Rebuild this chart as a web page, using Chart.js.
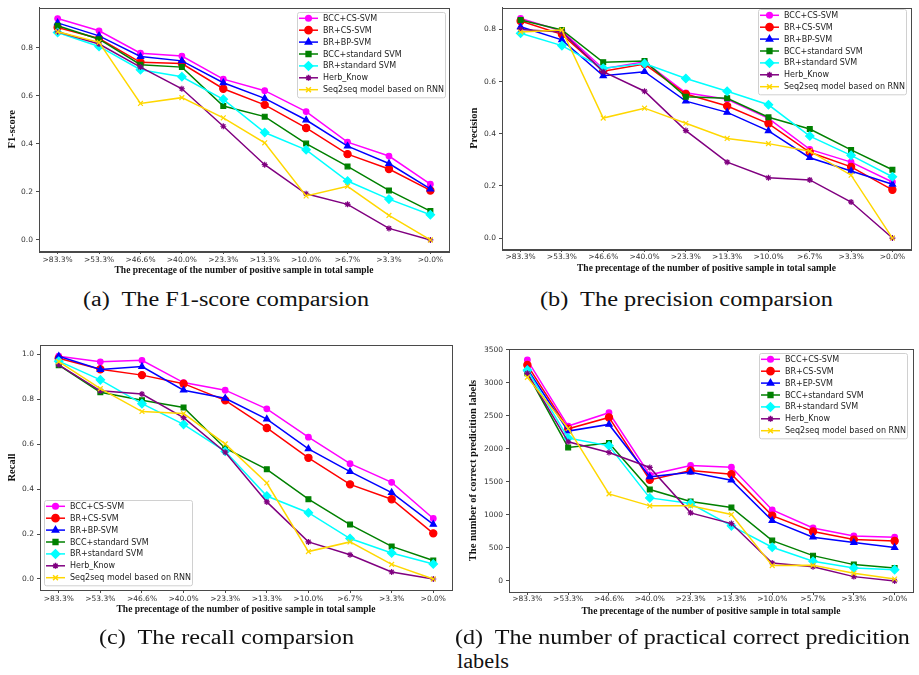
<!DOCTYPE html>
<html>
<head>
<meta charset="utf-8">
<script src="https://cdn.jsdelivr.net/npm/chart.js@4.4.0/dist/chart.umd.min.js"></script>
<style>
    body { margin: 0; background: #fff; width: 919px; height: 675px; position: relative; overflow: hidden; }
    canvas { position: absolute; }
    .cap { position: absolute; font-family: "Liberation Serif", "Times New Roman", serif; font-size: 20px; line-height: 20px; color: #111; white-space: nowrap; transform-origin: 0 0; }
</style>
</head>
<body>
<canvas id="chartA" width="460" height="285" style="left:0;top:0"></canvas>
<canvas id="chartB" width="459" height="285" style="left:460px;top:0"></canvas>
<canvas id="chartC" width="460" height="300" style="left:0;top:330px"></canvas>
<canvas id="chartD" width="459" height="300" style="left:460px;top:330px"></canvas>

<div class="cap" data-w="286" style="left:83px;top:289px">(a)&nbsp; The F1-score comparsion</div>
<div class="cap" data-w="293" style="left:540px;top:289px">(b)&nbsp; The precision comparsion</div>
<div class="cap" data-w="255" style="left:99px;top:627px">(c)&nbsp; The recall comparsion</div>
<div class="cap" data-w="455" style="left:455px;top:627px">(d)&nbsp; The number of practical correct predicition</div>
<div class="cap" data-w="52" style="left:457px;top:651px">labels</div>

<script>
// Categories and tick labels
const xLabels = ['>83.3%', '>53.3%', '>46.6%', '>40.0%', '>23.3%', '>13.3%', '>10.0%', '>6.7%', '>3.3%', '>0.0%'];
const xLabelsD = ['>83.3%', '>53.3%', '>46.6%', '>40.0%', '>23.3%', '>13.3%', '>10.0%', '>5.7%', '>3.3%', '>0.0%'];
const seriesNames = ['BCC+CS-SVM', 'BR+CS-SVM', 'BR+BP-SVM', 'BCC+standard SVM', 'BR+standard SVM', 'Herb_Know', 'Seq2seq model based on RNN'];
const seriesNamesD = ['BCC+CS-SVM', 'BR+CS-SVM', 'BR+EP-SVM', 'BCC+standard SVM', 'BR+standard SVM', 'Herb_Know', 'Seq2seq model based on RNN'];
const yTicksRate = [0.0, 0.2, 0.4, 0.6, 0.8];
const yTicksRecall = [0.0, 0.2, 0.4, 0.6, 0.8, 1.0];
const yTicksCount = [0, 500, 1000, 1500, 2000, 2500, 3000, 3500];

// (a) F1-score
const f1BccCs  = [0.921, 0.870, 0.777, 0.765, 0.669, 0.621, 0.534, 0.407, 0.349, 0.232];
const f1BrCs   = [0.884, 0.838, 0.739, 0.734, 0.629, 0.562, 0.466, 0.357, 0.295, 0.206];
const f1BrBp   = [0.903, 0.849, 0.763, 0.745, 0.654, 0.589, 0.499, 0.390, 0.318, 0.212];
const f1BccStd = [0.891, 0.835, 0.729, 0.719, 0.557, 0.513, 0.401, 0.306, 0.206, 0.120];
const f1BrStd  = [0.863, 0.805, 0.708, 0.679, 0.585, 0.447, 0.375, 0.245, 0.170, 0.105];
const f1Herb   = [0.866, 0.815, 0.719, 0.629, 0.473, 0.313, 0.192, 0.148, 0.048, 0.000];
const f1Seq    = [0.866, 0.822, 0.568, 0.592, 0.508, 0.404, 0.183, 0.223, 0.102, 0.000];

// (b) Precision
const prBccCs  = [0.842, 0.794, 0.649, 0.676, 0.557, 0.532, 0.459, 0.340, 0.291, 0.215];
const prBrCs   = [0.832, 0.781, 0.640, 0.667, 0.552, 0.506, 0.439, 0.329, 0.273, 0.185];
const prBrBp   = [0.810, 0.760, 0.622, 0.638, 0.525, 0.482, 0.411, 0.308, 0.257, 0.206];
const prBccStd = [0.836, 0.798, 0.674, 0.679, 0.542, 0.536, 0.463, 0.418, 0.338, 0.262];
const prBrStd  = [0.785, 0.738, 0.651, 0.669, 0.612, 0.563, 0.511, 0.391, 0.317, 0.235];
const prHerb   = [0.800, 0.790, 0.638, 0.563, 0.412, 0.291, 0.231, 0.223, 0.138, 0.000];
const prSeq    = [0.790, 0.798, 0.460, 0.498, 0.440, 0.382, 0.362, 0.333, 0.241, 0.000];

// (c) Recall
const reBccCs  = [0.991, 0.966, 0.973, 0.874, 0.840, 0.757, 0.631, 0.513, 0.430, 0.269];
const reBrCs   = [0.982, 0.933, 0.907, 0.869, 0.795, 0.672, 0.539, 0.421, 0.355, 0.203];
const reBrBp   = [0.991, 0.932, 0.945, 0.840, 0.804, 0.711, 0.579, 0.478, 0.384, 0.243];
const reBccStd = [0.951, 0.831, 0.795, 0.763, 0.582, 0.488, 0.355, 0.242, 0.145, 0.082];
const reBrStd  = [0.969, 0.886, 0.780, 0.688, 0.568, 0.369, 0.295, 0.180, 0.116, 0.067];
const reHerb   = [0.953, 0.837, 0.823, 0.718, 0.564, 0.343, 0.165, 0.108, 0.031, 0.000];
const reSeq    = [0.967, 0.847, 0.745, 0.736, 0.601, 0.427, 0.122, 0.165, 0.065, 0.000];

// (d) Number of correct prediction labels
const cnBccCs  = [3348, 2347, 2549, 1608, 1750, 1725, 1077, 804, 683, 663];
const cnBrCs   = [3272, 2306, 2478, 1532, 1674, 1618, 991, 749, 627, 607];
const cnBrBp   = [3212, 2271, 2372, 1578, 1649, 1527, 915, 663, 582, 506];
const cnBccStd = [3146, 2023, 2089, 1386, 1204, 1113, 612, 384, 248, 197];
const cnBrStd  = [3196, 2165, 2048, 1259, 1173, 835, 511, 298, 197, 172];
const cnHerb   = [3146, 2109, 1947, 1720, 1032, 870, 273, 217, 66, 0];
const cnSeq    = [3085, 2311, 1320, 1138, 1138, 1007, 233, 238, 116, 30];

// Line / marker styles per series
const seriesStyles = [
    { color: '#ff00ff', pointStyle: 'circle', radius: 2.8 },
    { color: '#ff0000', pointStyle: 'circle', radius: 3.6 },
    { color: '#0000ff', pointStyle: 'triangle', radius: 3.6 },
    { color: '#008000', pointStyle: 'rect', radius: 3.4 },
    { color: '#00ffff', pointStyle: 'rectRot', radius: 4.2 },
    { color: '#800080', pointStyle: 'star', radius: 3.0 },
    { color: '#ffd700', pointStyle: 'crossRot', radius: 3.4 }
];

const AXIS_COLOR = '#4a4a4a';
const TICK_FONT = { family: 'DejaVu Sans', size: 7.5 };

// Frame around the plot area (matplotlib style spines)
const framePlugin = {
    id: 'frame',
    afterDraw(chart) {
        const { ctx, chartArea: a } = chart;
        ctx.save();
        ctx.strokeStyle = AXIS_COLOR;
        ctx.lineWidth = 1;
        ctx.strokeRect(Math.round(a.left) + 0.5, Math.round(a.top) + 0.5,
            Math.round(a.right - a.left), Math.round(a.bottom - a.top));
        ctx.restore();
    }
};

// Legend box drawn inside the plot area
const boxLegendPlugin = {
    id: 'boxLegend',
    afterDatasetsDraw(chart, args, opts) {
        const { ctx } = chart;
        const rowH = 11.9;
        const n = chart.data.datasets.length;
        const w = 148, h = n * rowH + 2;
        ctx.save();
        ctx.fillStyle = 'rgba(255,255,255,0.85)';
        ctx.strokeStyle = '#d0d0d0';
        ctx.lineWidth = 1;
        ctx.beginPath();
        ctx.roundRect(opts.x + 0.5, opts.y + 0.5, w, h, 2);
        ctx.fill();
        ctx.stroke();
        ctx.font = '8px "DejaVu Sans"';
        ctx.textBaseline = 'middle';
        chart.data.datasets.forEach((ds, i) => {
            const cy = opts.y + 6.3 + i * rowH;
            ctx.strokeStyle = ds.borderColor;
            ctx.fillStyle = ds.borderColor;
            ctx.lineWidth = 1.5;
            ctx.beginPath();
            ctx.moveTo(opts.x + 2, cy);
            ctx.lineTo(opts.x + 21, cy);
            ctx.stroke();
            if (Chart.helpers && Chart.helpers.drawPoint) {
                Chart.helpers.drawPoint(ctx, { pointStyle: ds.pointStyle, radius: ds.pointRadius, rotation: 0, borderWidth: 1.2 }, opts.x + 11.5, cy);
            }
            ctx.fillStyle = '#222';
            ctx.fillText(ds.label, opts.x + 26, cy + 0.5);
        });
        ctx.restore();
    }
};

function makeDatasets(names, seriesList) {
    return seriesList.map((values, i) => ({
        label: names[i],
        data: values.map((v, k) => ({ x: k, y: v })),
        borderColor: seriesStyles[i].color,
        backgroundColor: seriesStyles[i].color,
        pointBackgroundColor: seriesStyles[i].color,
        pointBorderColor: seriesStyles[i].color,
        pointStyle: seriesStyles[i].pointStyle,
        pointRadius: seriesStyles[i].radius,
        pointBorderWidth: 1.2,
        borderWidth: 1.5,
        tension: 0,
        order: seriesList.length - i
    }));
}

function initPanel(id, cfg) {
    const canvas = document.getElementById(id);
    const g = cfg.geo;
    const yTitleSize = 10.5, xTitleSize = 9.5;
    new Chart(canvas, {
        type: 'line',
        data: { datasets: makeDatasets(cfg.names, cfg.series) },
        options: {
            responsive: false,
            animation: false,
            events: [],
            layout: { padding: { top: g.area.t, right: canvas.width - g.area.r, left: 0, bottom: 0 } },
            plugins: {
                legend: { display: false },
                tooltip: { enabled: false },
                boxLegend: { x: g.legend[0], y: g.legend[1] }
            },
            scales: {
                x: {
                    type: 'linear',
                    min: -0.45,
                    max: cfg.labels.length - 1 + 0.45,
                    afterBuildTicks: s => { s.ticks = cfg.labels.map((_, i) => ({ value: i })); },
                    afterFit: s => { s.height = canvas.height - g.area.b; },
                    ticks: {
                        autoSkip: false, maxRotation: 0, minRotation: 0,
                        padding: Math.max(0, g.xTickY - 4.3 - g.area.b - 3),
                        color: '#333', font: TICK_FONT,
                        callback: v => cfg.labels[v]
                    },
                    grid: { drawOnChartArea: false, drawTicks: true, tickLength: 3, color: AXIS_COLOR },
                    border: { display: true, color: AXIS_COLOR },
                    title: {
                        display: true,
                        text: 'The precentage of the number of positive sample in total sample',
                        color: '#111',
                        font: { family: 'Liberation Serif', size: xTitleSize, weight: 'bold' },
                        padding: { top: 0, bottom: (canvas.height - g.xTitleY) - xTitleSize * 0.6 }
                    }
                },
                y: {
                    type: 'linear',
                    min: cfg.yMin,
                    max: cfg.yMax,
                    afterBuildTicks: s => { s.ticks = cfg.yTicks.map(v => ({ value: v })); },
                    afterFit: s => { s.width = g.area.l; },
                    ticks: {
                        padding: 3, color: '#333', font: TICK_FONT,
                        callback: cfg.fmt
                    },
                    grid: { drawOnChartArea: false, drawTicks: true, tickLength: 3, color: AXIS_COLOR },
                    border: { display: true, color: AXIS_COLOR },
                    title: {
                        display: true,
                        text: cfg.yTitle,
                        color: '#111',
                        font: { family: 'Liberation Serif', size: yTitleSize, weight: 'bold' },
                        padding: { top: g.yTitleX - yTitleSize * 0.6, bottom: 0 }
                    }
                }
            }
        },
        plugins: [boxLegendPlugin, framePlugin]
    });
}

const rateFmt = v => v.toFixed(1);
const countFmt = v => String(v);

initPanel('chartA', {
    labels: xLabels, names: seriesNames,
    series: [f1BccCs, f1BrCs, f1BrBp, f1BccStd, f1BrStd, f1Herb, f1Seq],
    yTicks: yTicksRate, yMin: -0.046, yMax: 0.967, fmt: rateFmt, yTitle: 'F1-score',
    geo: { area: { l: 39, t: 7, r: 449, b: 251 }, yTitleX: 12, xTitleY: 271, xTickY: 260, legend: [297, 12] }
});
initPanel('chartB', {
    labels: xLabels, names: seriesNames,
    series: [prBccCs, prBrCs, prBrBp, prBccStd, prBrStd, prHerb, prSeq],
    yTicks: yTicksRate, yMin: -0.042, yMax: 0.884, fmt: rateFmt, yTitle: 'Precision',
    geo: { area: { l: 42, t: 5, r: 451, b: 249 }, yTitleX: 14, xTitleY: 269, xTickY: 257, legend: [298, 9] }
});
initPanel('chartC', {
    labels: xLabels, names: seriesNames,
    series: [reBccCs, reBrCs, reBrBp, reBccStd, reBrStd, reHerb, reSeq],
    yTicks: yTicksRecall, yMin: -0.049, yMax: 1.041, fmt: rateFmt, yTitle: 'Recall',
    geo: { area: { l: 40, t: 15, r: 452, b: 260 }, yTitleX: 12, xTitleY: 280, xTickY: 269, legend: [44, 170] }
});
initPanel('chartD', {
    labels: xLabelsD, names: seriesNamesD,
    series: [cnBccCs, cnBrCs, cnBrBp, cnBccStd, cnBrStd, cnHerb, cnSeq],
    yTicks: yTicksCount, yMin: -167, yMax: 3515, fmt: countFmt, yTitle: 'The number of correct predicition labels',
    geo: { area: { l: 49, t: 19, r: 453, b: 262 }, yTitleX: 13, xTitleY: 282, xTickY: 269, legend: [299, 23] }
});

// Stretch captions to the width they take in the reference
document.querySelectorAll('.cap').forEach(el => {
    const target = parseFloat(el.dataset.w);
    const w = el.getBoundingClientRect().width;
    if (w > 0) el.style.transform = 'scaleX(' + (target / w).toFixed(3) + ')';
});
</script>
</body>
</html>
